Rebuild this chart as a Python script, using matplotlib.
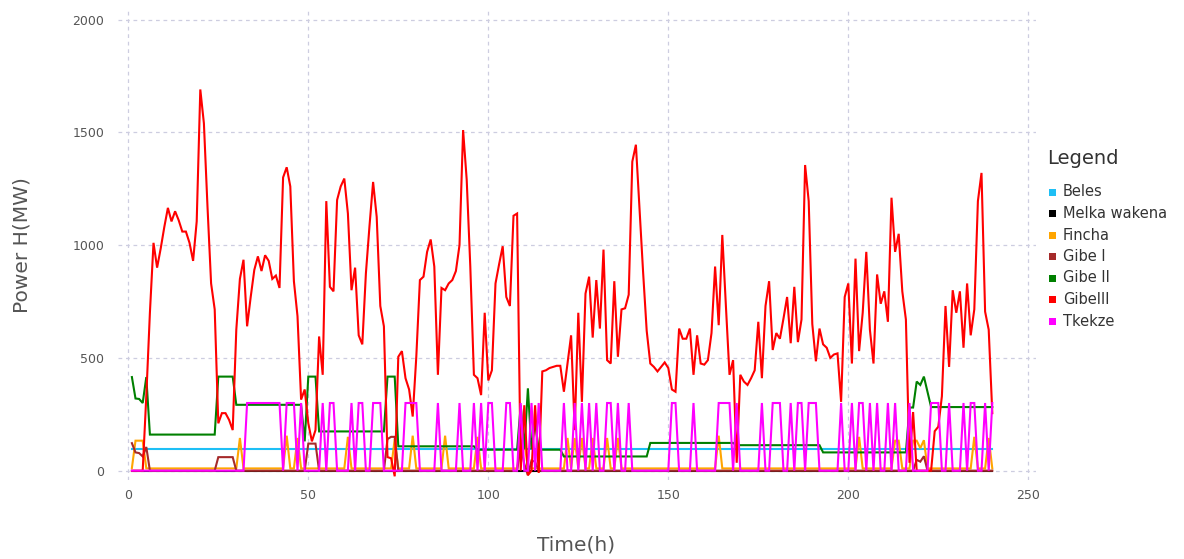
import matplotlib
matplotlib.use("Agg")
import matplotlib.pyplot as plt
from matplotlib.patches import Rectangle

hours = list(range(1, 241))

beles = [
    96, 96, 96, 96, 96, 96, 96, 96, 96, 96, 96, 96, 96, 96, 96, 96, 96, 96, 96, 96,
    96, 96, 96, 96, 96, 96, 96, 96, 96, 96, 96, 96, 96, 96, 96, 96, 96, 96, 96, 96,
    96, 96, 96, 96, 96, 96, 96, 96, 96, 96, 96, 96, 96, 96, 96, 96, 96, 96, 96, 96,
    96, 96, 96, 96, 96, 96, 96, 96, 96, 96, 96, 96, 96, 96, 96, 96, 96, 96, 96, 96,
    96, 96, 96, 96, 96, 96, 96, 96, 96, 96, 96, 96, 96, 96, 96, 96, 96, 96, 96, 96,
    96, 96, 96, 96, 96, 96, 96, 96, 96, 96, 96, 96, 96, 96, 96, 96, 96, 96, 96, 96,
    96, 96, 96, 96, 96, 96, 96, 96, 96, 96, 96, 96, 96, 96, 96, 96, 96, 96, 96, 96,
    96, 96, 96, 96, 96, 96, 96, 96, 96, 96, 96, 96, 96, 96, 96, 96, 96, 96, 96, 96,
    96, 96, 96, 96, 96, 96, 96, 96, 96, 96, 96, 96, 96, 96, 96, 96, 96, 96, 96, 96,
    96, 96, 96, 96, 96, 96, 96, 96, 96, 96, 96, 96, 96, 96, 96, 96, 96, 96, 96, 96,
    96, 96, 96, 96, 96, 96, 96, 96, 96, 96, 96, 96, 96, 96, 96, 96, 96, 96, 96, 96,
    96, 96, 96, 96, 96, 96, 96, 96, 96, 96, 96, 96, 96, 96, 96, 96, 96, 96, 96, 96,
]

melka_wakena = [
    0, 0, 0, 0, 0, 0, 0, 0, 0, 0, 0, 0, 0, 0, 0, 0, 0, 0, 0, 0,
    0, 0, 0, 0, 0, 0, 0, 0, 0, 0, 0, 0, 0, 0, 0, 0, 0, 0, 0, 0,
    0, 0, 0, 0, 0, 0, 0, 0, 0, 0, 0, 0, 0, 0, 0, 0, 0, 0, 0, 0,
    0, 0, 0, 0, 0, 0, 0, 0, 0, 0, 0, 0, 0, 0, 0, 0, 0, 0, 0, 0,
    0, 0, 0, 0, 0, 0, 0, 0, 0, 0, 0, 0, 0, 0, 0, 0, 0, 0, 0, 0,
    0, 0, 0, 0, 0, 0, 0, 0, 0, 0, 0, 0, 0, 0, 0, 0, 0, 0, 0, 0,
    0, 0, 0, 0, 0, 0, 0, 0, 0, 0, 0, 0, 0, 0, 0, 0, 0, 0, 0, 0,
    0, 0, 0, 0, 0, 0, 0, 0, 0, 0, 0, 0, 0, 0, 0, 0, 0, 0, 0, 0,
    0, 0, 0, 0, 0, 0, 0, 0, 0, 0, 0, 0, 0, 0, 0, 0, 0, 0, 0, 0,
    0, 0, 0, 0, 0, 0, 0, 0, 0, 0, 0, 0, 0, 0, 0, 0, 0, 0, 0, 0,
    0, 0, 0, 0, 0, 0, 0, 0, 0, 0, 0, 0, 0, 0, 0, 0, 0, 0, 0, 0,
    0, 0, 0, 0, 0, 0, 0, 0, 0, 0, 0, 0, 0, 0, 0, 0, 0, 0, 0, 0,
]

fincha = [
    12, 133, 133, 133, 10, 10, 10, 10, 10, 10, 10, 10, 10, 10, 10, 10, 10, 10, 10, 10,
    10, 10, 10, 10, 10, 10, 10, 10, 10, 10, 145, 10, 10, 10, 10, 10, 10, 10, 10, 10,
    10, 10, 10, 155, 10, 10, 145, 10, 10, 10, 10, 10, 10, 10, 10, 10, 10, 10, 10, 10,
    150, 10, 10, 10, 10, 10, 10, 10, 10, 10, 10, 10, 10, 140, 10, 10, 10, 10, 155, 10,
    10, 10, 10, 10, 10, 10, 10, 155, 10, 10, 10, 10, 10, 10, 10, 10, 150, 10, 10, 10,
    10, 10, 10, 10, 10, 10, 10, 10, 130, 130, 10, 10, 10, 10, 10, 10, 10, 10, 10, 10,
    10, 145, 10, 145, 10, 145, 10, 10, 145, 10, 10, 10, 145, 10, 10, 145, 10, 10, 10, 10,
    10, 10, 10, 10, 10, 10, 10, 10, 10, 10, 10, 10, 10, 10, 10, 10, 10, 10, 10, 10,
    10, 10, 10, 155, 10, 10, 10, 10, 10, 10, 10, 10, 10, 10, 10, 10, 10, 10, 10, 10,
    10, 10, 10, 10, 10, 10, 10, 10, 10, 10, 10, 10, 10, 10, 10, 10, 10, 10, 10, 10,
    10, 10, 150, 10, 10, 10, 10, 10, 10, 10, 10, 10, 133, 133, 10, 10, 10, 133, 133, 100,
    135, 10, 10, 10, 10, 10, 10, 10, 10, 10, 10, 10, 10, 10, 150, 10, 10, 10, 145, 10,
]

gibe_1 = [
    122, 81, 78, 63, 105, 0, 0, 0, 0, 0, 0, 0, 0, 0, 0, 0, 0, 0, 0, 0,
    0, 0, 0, 0, 60, 60, 60, 60, 60, 0, 0, 0, 0, 0, 0, 0, 0, 0, 0, 0,
    0, 0, 0, 0, 0, 0, 0, 0, 0, 120, 120, 120, 0, 0, 0, 0, 0, 0, 0, 0,
    0, 0, 0, 0, 0, 0, 0, 0, 0, 0, 0, 140, 150, 150, 0, 0, 0, 0, 0, 0,
    0, 0, 0, 0, 0, 0, 0, 0, 0, 0, 0, 0, 0, 0, 0, 0, 0, 0, 0, 0,
    0, 0, 0, 0, 0, 0, 0, 0, 110, 30, -20, 45, 40, 0, 0, 0, 0, 0, 0, 0,
    0, 0, 0, 0, 0, 0, 0, 0, 0, 0, 0, 0, 0, 0, 0, 0, 0, 0, 0, 0,
    0, 0, 0, 0, 0, 0, 0, 0, 0, 0, 0, 0, 0, 0, 0, 0, 0, 0, 0, 0,
    0, 0, 0, 0, 0, 0, 0, 0, 0, 0, 0, 0, 0, 0, 0, 0, 0, 0, 0, 0,
    0, 0, 0, 0, 0, 0, 0, 0, 0, 0, 0, 0, 0, 0, 0, 0, 0, 0, 0, 0,
    0, 0, 0, 0, 0, 0, 0, 0, 0, 0, 0, 0, 0, 0, 0, 0, 0, 0, 48, 40,
    64, 0, 0, 0, 0, 0, 0, 0, 0, 0, 0, 0, 0, 0, 0, 0, 0, 0, 0, 0,
]

gibe_2 = [
    415, 320, 318, 300, 415, 160, 160, 160, 160, 160, 160, 160, 160, 160, 160, 160, 160, 160, 160, 160,
    160, 160, 160, 160, 417, 417, 417, 417, 417, 292, 292, 292, 292, 292, 292, 292, 292, 292, 292, 292,
    292, 292, 292, 292, 292, 292, 292, 292, 130, 417, 417, 417, 174, 174, 174, 174, 174, 174, 174, 174,
    174, 174, 174, 174, 174, 174, 174, 174, 174, 174, 174, 417, 417, 417, 108, 108, 108, 108, 108, 108,
    108, 108, 108, 108, 108, 108, 108, 108, 108, 108, 108, 108, 108, 108, 108, 108, 93, 93, 93, 93,
    93, 93, 93, 93, 93, 93, 93, 93, 290, 95, 365, 95, 215, 93, 93, 93, 93, 93, 93, 93,
    63, 63, 63, 63, 63, 63, 63, 63, 63, 63, 63, 63, 63, 63, 63, 63, 63, 63, 63, 63,
    63, 63, 63, 63, 123, 123, 123, 123, 123, 123, 123, 123, 123, 123, 123, 123, 123, 123, 123, 123,
    123, 123, 123, 123, 123, 123, 123, 123, 113, 113, 113, 113, 113, 113, 113, 113, 113, 113, 113, 113,
    113, 113, 113, 113, 113, 113, 113, 113, 113, 113, 113, 113, 81, 81, 81, 81, 81, 81, 81, 81,
    81, 81, 81, 81, 81, 81, 81, 81, 81, 81, 81, 81, 81, 81, 81, 81, 280, 280, 395, 380,
    417, 350, 282, 282, 282, 282, 282, 282, 282, 282, 282, 282, 282, 282, 282, 282, 282, 282, 282, 282,
]

gibe_3 = [
    0, 0, 0, 0, 330, 700, 1010, 900, 985, 1080, 1165, 1105, 1150, 1110, 1060, 1060, 1010, 930, 1105, 1690,
    1540, 1170, 830, 715, 210, 255, 255, 225, 180, 625, 850, 935, 640, 770, 890, 950, 885, 955, 930, 850,
    865, 810, 1300, 1345, 1260, 840, 685, 315, 360, 210, 130, 180, 595, 425, 1195, 815, 795, 1200, 1260, 1295,
    1140, 800, 900, 600, 560, 875, 1085, 1280, 1125, 730, 640, 60, 55, -25, 505, 530, 410, 360, 240, 505,
    845, 860, 970, 1025, 905, 425, 810, 800, 830, 845, 885, 1000, 1510, 1290, 905, 425, 410, 335, 700, 400,
    445, 830, 915, 995, 770, 730, 1130, 1140, 0, 290, -20, 0, 290, -10, 440, 445, 455, 460, 465, 465,
    350, 475, 600, 180, 700, 305, 785, 860, 590, 845, 630, 980, 490, 475, 840, 505, 715, 720, 780, 1370,
    1445, 1160, 880, 620, 475, 460, 440, 460, 480, 455, 360, 350, 630, 585, 585, 630, 425, 600, 475, 470,
    490, 610, 905, 645, 1045, 730, 425, 490, 35, 425, 395, 380, 410, 445, 660, 410, 730, 840, 535, 610,
    585, 675, 770, 565, 815, 570, 670, 1355, 1195, 650, 485, 630, 560, 545, 500, 515, 520, 305, 770, 830,
    475, 940, 530, 700, 970, 625, 475, 870, 740, 795, 660, 1210, 970, 1050, 795, 670, 35, 260, 0, 0,
    0, 0, 0, 175, 195, 330, 730, 460, 800, 700, 795, 545, 830, 600, 715, 1195, 1320, 705, 625, 255,
]

tkekze = [
    0, 0, 0, 0, 0, 0, 0, 0, 0, 0, 0, 0, 0, 0, 0, 0, 0, 0, 0, 0,
    0, 0, 0, 0, 0, 0, 0, 0, 0, 0, 0, 0, 300, 300, 300, 300, 300, 300, 300, 300,
    300, 300, 0, 300, 300, 300, 0, 300, 0, 0, 0, 0, 0, 300, 0, 300, 300, 0, 0, 0,
    0, 300, 0, 300, 300, 0, 0, 300, 300, 300, 0, 0, 0, 0, 0, 0, 300, 300, 300, 300,
    0, 0, 0, 0, 0, 300, 0, 0, 0, 0, 0, 300, 0, 0, 0, 300, 0, 300, 0, 300,
    300, 0, 0, 0, 300, 300, 0, 0, 300, 0, 0, 300, 0, 300, 0, 0, 0, 0, 0, 0,
    300, 0, 0, 300, 0, 300, 0, 300, 0, 300, 0, 0, 300, 300, 0, 300, 0, 0, 300, 0,
    0, 0, 0, 0, 0, 0, 0, 0, 0, 0, 300, 300, 0, 0, 0, 0, 300, 0, 0, 0,
    0, 0, 0, 300, 300, 300, 300, 0, 300, 0, 0, 0, 0, 0, 0, 300, 0, 0, 300, 300,
    300, 0, 0, 300, 0, 300, 300, 0, 300, 300, 300, 0, 0, 0, 0, 0, 0, 300, 0, 0,
    300, 0, 300, 300, 0, 300, 0, 300, 0, 0, 300, 0, 300, 0, 0, 0, 300, 0, 0, 0,
    0, 0, 300, 300, 300, 0, 0, 300, 0, 0, 0, 300, 0, 300, 300, 0, 0, 300, 0, 300,
]

series_names = ["Beles", "Melka wakena", "Fincha", "Gibe I", "Gibe II", "GibeIII", "Tkekze"]
series_values = [beles, melka_wakena, fincha, gibe_1, gibe_2, gibe_3, tkekze]
series_colors = ["#1EBFF5", "#000000", "#FFA500", "#A52A2A", "#008000", "#FF0000", "#FF00FF"]

x_ticks = [0, 50, 100, 150, 200, 250]
y_ticks = [0, 500, 1000, 1500, 2000]

W, H = 1184, 559
fig = plt.figure(figsize=(W / 100, H / 100), dpi=100)
fig.patch.set_facecolor("white")

# axes box in pixels: left 117.5, right 1035.5, top 10.5, bottom 479.7
ax_left, ax_right, ax_top, ax_bottom = 117.5, 1035.5, 10.5, 479.7
ax = fig.add_axes([ax_left / W, 1 - ax_bottom / H,
                   (ax_right - ax_left) / W, (ax_bottom - ax_top) / H])
ax.set_facecolor("white")

for vals, color in zip(series_values, series_colors):
    ax.plot(hours, vals, color=color, lw=1.5, solid_joinstyle="miter")

ax.set_xlim(-3, 252)
ax.set_ylim(-40, 2040)
ax.set_xticks(x_ticks)
ax.set_yticks(y_ticks)
ax.set_xticklabels([str(v) for v in x_ticks])
ax.set_yticklabels([str(v) for v in y_ticks])
ax.grid(True, color="#cdcde0", linestyle=(0, (3, 3)), lw=0.9)
ax.set_axisbelow(True)
for s in ax.spines.values():
    s.set_visible(False)
ax.tick_params(axis="both", length=0, labelsize=9, colors="#555555")
ax.tick_params(axis="y", pad=9.5)
ax.tick_params(axis="x", pad=6.5)

# axis titles
fig.text((ax_left + ax_right) / 2 / W, 1 - 545 / H, "Time(h)",
         ha="center", va="center", fontsize=14.5, color="#555555")
fig.text(22 / W, 1 - 245 / H, "Power H(MW)", rotation=90,
         ha="center", va="center", fontsize=14.5, color="#555555")

# legend block on the right
fig.text(1047 / W, 1 - 158 / H, "Legend", ha="left", va="center",
         fontsize=14, color="#333333")
for i, (name, color) in enumerate(zip(series_names, series_colors)):
    yc = 192 + 21.5 * i
    fig.add_artist(Rectangle(((1052 - 3.5) / W, 1 - (yc + 3.5) / H), 7 / W, 7 / H,
                             transform=fig.transFigure, facecolor=color,
                             edgecolor="none"))
    fig.text(1063 / W, 1 - yc / H, name, ha="left", va="center",
             fontsize=10.5, color="#333333")

fig.savefig("out.png", dpi=100)
